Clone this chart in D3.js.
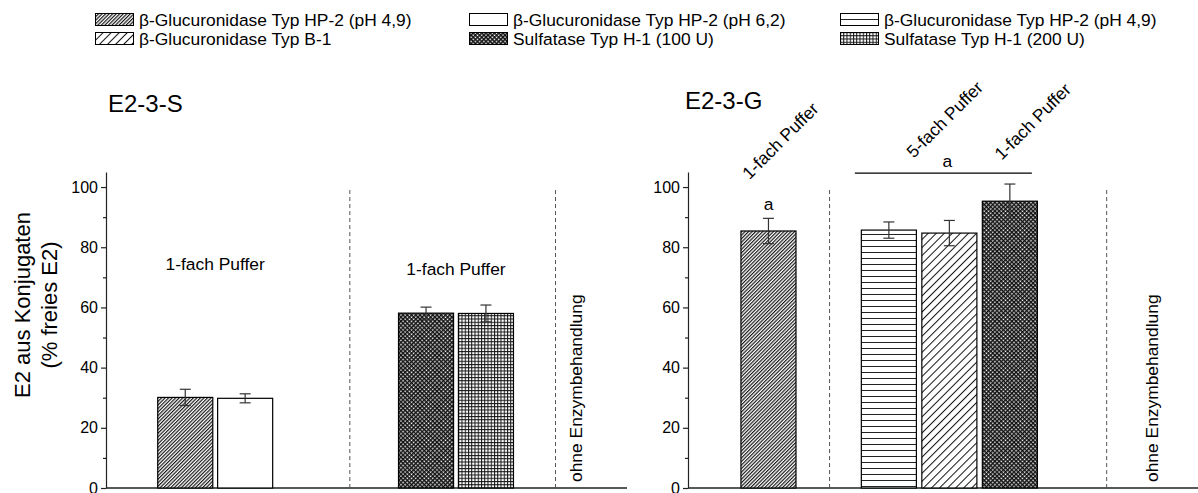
<!DOCTYPE html>
<html><head><meta charset="utf-8">
<script src="https://cdn.jsdelivr.net/npm/d3@7/dist/d3.min.js"></script>
<style>body{margin:0;background:#fff}svg{display:block;font-family:"Liberation Sans",Arial,sans-serif}</style>
</head><body><svg id="c" width="1198" height="493"></svg>
<script>
// ---------- data ----------
const seriesNames = [
  "β-Glucuronidase Typ HP-2 (pH 4,9)",
  "β-Glucuronidase Typ HP-2 (pH 6,2)",
  "β-Glucuronidase Typ HP-2 (pH 4,9)",
  "β-Glucuronidase Typ B-1",
  "Sulfatase Typ H-1 (100 U)",
  "Sulfatase Typ H-1 (200 U)"
];
const seriesPatterns = ["diagDense", "blank", "horiz", "diagSparse", "checker", "grid"];
const yTicks = [0, 20, 40, 60, 80, 100];
const yMinorTicks = [10, 30, 50, 70, 90];

const panelS_title = "E2-3-S";
const panelS_series = [0, 1, 4, 5];
const panelS_values = [30.1, 29.8, 58.1, 58.0];
const panelS_errors = [2.7, 1.5, 2.0, 2.8];

const panelG_title = "E2-3-G";
const panelG_series = [0, 2, 3, 4];
const panelG_values = [85.4, 85.7, 84.7, 95.3];
const panelG_errors = [4.2, 2.7, 4.2, 5.7];

const yTitle = ["E2 aus Konjugaten", "(% freies E2)"];
const noEnzymeLabel = "ohne Enzymbehandlung";

// ---------- layout ----------
const svg = d3.select("#c");
const FONT = 17.4;
const unitPx = 60.5;
const barW = 0.91;
const y = d3.scaleLinear().domain([0, 105]).range([488, 172]);

const xS = d3.scaleLinear().domain([0, 1]).range([106, 106 + unitPx]);
const xG = d3.scaleLinear().domain([0, 1]).range([688, 688 + unitPx]);
const slotsS = [1.31, 2.30, 5.29, 6.28];
const slotsG = [1.33, 3.32, 4.32, 5.32];

// ---------- patterns ----------
const defs = svg.append("defs");
function pat(id, w, h, rot) {
  const p = defs.append("pattern").attr("id", id).attr("patternUnits", "userSpaceOnUse")
    .attr("width", w).attr("height", h);
  if (rot) p.attr("patternTransform", `rotate(${rot})`);
  p.append("rect").attr("width", w).attr("height", h).attr("fill", "#fff");
  return p;
}
let p;
p = pat("diagDense", 2.5, 10, 45);
p.append("line").attr("x1", 0.6).attr("x2", 0.6).attr("y1", 0).attr("y2", 10).attr("stroke", "#1a1a1a").attr("stroke-width", 1.2);
p = pat("diagSparse", 5.7, 10, 45);
p.append("line").attr("x1", 0.5).attr("x2", 0.5).attr("y1", 0).attr("y2", 10).attr("stroke", "#111").attr("stroke-width", 1);
p = pat("horiz", 10, 6, 0);
p.append("line").attr("x1", 0).attr("x2", 10).attr("y1", 0.5).attr("y2", 0.5).attr("stroke", "#222").attr("stroke-width", 1);
p = pat("grid", 3.25, 3.25, 0);
p.append("path").attr("d", "M0,0.5H3.25M0.5,0V3.25").attr("stroke", "#111").attr("stroke-width", 1);
p = pat("checker", 3, 3, 45);
p.append("path").attr("d", "M0,0.75H3M0.75,0V3").attr("stroke", "#111").attr("stroke-width", 1.5);
p = pat("blank", 4, 4, 0);

const fillOf = i => `url(#${seriesPatterns[i]})`;

// ---------- legend ----------
const legendCols = [95, 469, 840];
const legendRows = [13, 32];
seriesNames.forEach((name, i) => {
  const col = i % 3, row = Math.floor(i / 3);
  const g = svg.append("g").attr("transform", `translate(${legendCols[col]},${legendRows[row]})`);
  g.append("rect").attr("x", 0.5).attr("y", 0.5).attr("width", 38).attr("height", 12)
    .attr("fill", fillOf(i)).attr("stroke", "#000").attr("stroke-width", 1);
  g.append("text").attr("x", 44).attr("y", 12.8).attr("font-size", FONT).text(name);
});

// ---------- panels ----------
function drawPanel(x, slots, series, values, errors, xEnd, seps) {
  const g = svg.append("g");
  const ax = g.append("g").attr("transform", `translate(${x(0)},0)`)
    .call(d3.axisLeft(y).tickValues(yTicks).tickSize(5).tickPadding(3).tickSizeOuter(0));
  ax.selectAll("text").attr("font-size", 16).attr("font-family", "Liberation Sans, Arial, sans-serif").attr("fill", "#000");
  ax.selectAll("line, path").attr("stroke", "#222").attr("stroke-width", 1.2);
  const axm = g.append("g").attr("transform", `translate(${x(0)},0)`)
    .call(d3.axisLeft(y).tickValues(yMinorTicks).tickSize(3).tickFormat(""));
  axm.select("path").remove();
  axm.selectAll("line").attr("stroke", "#222").attr("stroke-width", 1.2);
  g.append("line").attr("x1", x(0)).attr("x2", xEnd).attr("y1", y(0)).attr("y2", y(0))
    .attr("stroke", "#222").attr("stroke-width", 1.4);
  seps.forEach(s => g.append("line").attr("x1", x(s)).attr("x2", x(s)).attr("y1", y(99)).attr("y2", y(0))
    .attr("stroke", "#555").attr("stroke-width", 1).attr("stroke-dasharray", "4,3"));
  const bw = x(barW) - x(0);
  values.forEach((v, i) => {
    const cx = x(slots[i]);
    g.append("rect").attr("x", cx - bw / 2).attr("y", y(v)).attr("width", bw).attr("height", y(0) - y(v))
      .attr("fill", fillOf(series[i])).attr("stroke", "#000").attr("stroke-width", 1.2);
    const e = errors[i];
    const eg = g.append("g").attr("stroke", "#333").attr("stroke-width", 1.2);
    eg.append("line").attr("x1", cx).attr("x2", cx).attr("y1", y(v + e)).attr("y2", y(v - e));
    eg.append("line").attr("x1", cx - 5.5).attr("x2", cx + 5.5).attr("y1", y(v + e)).attr("y2", y(v + e));
    eg.append("line").attr("x1", cx - 5.5).attr("x2", cx + 5.5).attr("y1", y(v - e)).attr("y2", y(v - e));
  });
  return g;
}

drawPanel(xS, slotsS, panelS_series, panelS_values, panelS_errors, 627, [4.03, 7.43]);
drawPanel(xG, slotsG, panelG_series, panelG_values, panelG_errors, 1198, [2.34, 6.92]);

// y-axis title
const yt = svg.append("text").attr("transform", `translate(0,305) rotate(-90)`)
  .attr("text-anchor", "middle").attr("font-size", 22);
yt.append("tspan").attr("x", 0).attr("y", 30).text(yTitle[0]);
yt.append("tspan").attr("x", 0).attr("y", 57).text(yTitle[1]);

// panel titles
svg.append("text").attr("x", 108).attr("y", 112).attr("font-size", 24).text(panelS_title);
svg.append("text").attr("x", 685).attr("y", 109).attr("font-size", 24).text(panelG_title);

// annotations panel S
svg.append("text").attr("x", (xS(slotsS[0]) + xS(slotsS[1])) / 2).attr("y", y(72.5)).attr("text-anchor", "middle")
  .attr("font-size", FONT).text("1-fach Puffer");
svg.append("text").attr("x", (xS(slotsS[2]) + xS(slotsS[3])) / 2).attr("y", y(70.8)).attr("text-anchor", "middle")
  .attr("font-size", FONT).text("1-fach Puffer");
svg.append("text").attr("transform", `translate(${xS(7.43) + 26},${y(2)}) rotate(-90)`)
  .attr("font-size", FONT).text(noEnzymeLabel);

// annotations panel G
function rotLabel(px, py, t) {
  svg.append("text").attr("transform", `translate(${px},${py}) rotate(-45)`).attr("font-size", FONT).text(t);
}
rotLabel(xG(slotsG[0]) - 19, y(102.3), "1-fach Puffer");
rotLabel(xG(slotsG[1]) + 25, y(109.4), "5-fach Puffer");
rotLabel(xG(slotsG[3]) - 8, y(108.7), "1-fach Puffer");
svg.append("text").attr("x", xG(slotsG[0])).attr("y", y(92.5)).attr("text-anchor", "middle").attr("font-size", FONT).text("a");
svg.append("line").attr("x1", xG(slotsG[1]) - 34).attr("x2", xG(slotsG[3]) + 22).attr("y1", y(104.6)).attr("y2", y(104.6))
  .attr("stroke", "#000").attr("stroke-width", 1.2);
svg.append("text").attr("x", xG(slotsG[2]) - 2).attr("y", y(106.7)).attr("text-anchor", "middle").attr("font-size", FONT).text("a");
svg.append("text").attr("transform", `translate(${xG(6.92) + 51},${y(2)}) rotate(-90)`)
  .attr("font-size", FONT).text(noEnzymeLabel);
</script></body></html>
